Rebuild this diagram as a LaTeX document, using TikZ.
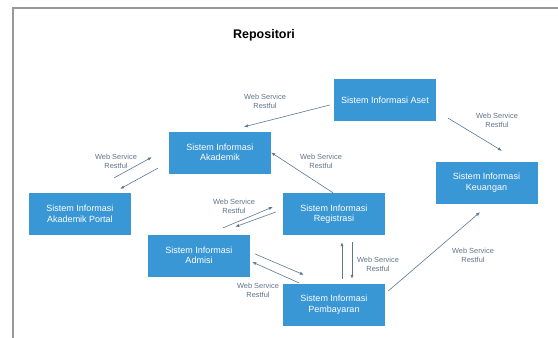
\documentclass[tikz,border=0pt]{standalone}
\usepackage{fontspec}
\setmainfont{Liberation Sans}
\usetikzlibrary{arrows.meta}
\definecolor{boxblue}{HTML}{3A97D5}
\definecolor{linegrey}{HTML}{5C7890}
\definecolor{labelgrey}{HTML}{5E7388}
\begin{document}
\begin{tikzpicture}[x=1pt, y=-1pt,
    sistem/.style={fill=boxblue, text=white, minimum width=102pt, minimum height=42pt, inner sep=0pt, align=center, font=\fontsize{9}{10.5}\selectfont},
    ws/.style={text=labelgrey, align=center, inner sep=0pt, font=\fontsize{7.4}{9}\selectfont},
    link/.style={draw=linegrey, line width=0.6pt, -{Latex[length=4pt,width=3.2pt]}}]
            \useasboundingbox (0,0) rectangle (558,338);

            %frame round the page
            \draw[gray!80, line width=1.2pt] (13,338) -- (13,8) -- (560,8);

            \node[font=\fontsize{12.5}{14}\selectfont\bfseries] (title) at (264,35) {Repositori};

            \node[sistem] (aset) at (385,100) {Sistem Informasi Aset};
            \node[sistem] (akad) at (220,152.5) {Sistem Informasi\\Akademik};
            \node[sistem] (portal) at (80,214) {Sistem Informasi\\Akademik Portal};
            \node[sistem] (regis) at (334,214) {Sistem Informasi\\Registrasi};
            \node[sistem] (admisi) at (199,255.5) {Sistem Informasi\\Admisi};
            \node[sistem] (bayar) at (334,304.5) {Sistem Informasi\\Pembayaran};
            \node[sistem] (keu) at (486.5,182.5) {Sistem Informasi\\Keuangan};

            %labels on the connectors
            \node[ws] (w1) at (265,101) {Web Service\\Restful};
            \node[ws] (w2) at (497,120) {Web Service\\Restful};
            \node[ws] (w3) at (116,161) {Web Service\\Restful};
            \node[ws] (w4) at (321,161) {Web Service\\Restful};
            \node[ws] (w5) at (234,206) {Web Service\\Restful};
            \node[ws] (w6) at (258,290) {Web Service\\Restful};
            \node[ws] (w7) at (378,264) {Web Service\\Restful};
            \node[ws] (w8) at (473,255) {Web Service\\Restful};

            \draw[link] ([shift={(-4,5)}]aset.west) -- ([shift={(24,-4.5)}]akad.north);
            \draw[link] ([shift={(12,-3)}]aset.south east) -- ([shift={(15.5,-10.5)}]keu.north);

            \draw[link] ([shift={(-17,-15)}]portal.north east) -- ([shift={(-17,-16.5)}]akad.south west);
            \draw[link] ([shift={(-11,-5.5)}]akad.south west) -- ([shift={(-11,-4)}]portal.north east);

            \draw[link] ([shift={(-1,0)}]regis.north) -- (akad.east);

            \draw[link] ([shift={(-27,-6.5)}]admisi.north east) -- ([shift={(-10,-7)}]regis.west);
            \draw[link] ([shift={(-7,-2)}]regis.west) -- ([shift={(-15,-7.5)}]admisi.north east);

            \draw[link] ([shift={(5,-1.5)}]admisi.east) -- ([shift={(21,-8.5)}]bayar.north west);
            \draw[link] ([shift={(16,-0.5)}]bayar.north west) -- ([shift={(2,6.5)}]admisi.east);

            \draw[link] ([shift={(8,-4.5)}]bayar.north) -- ([shift={(8,7)}]regis.south);
            \draw[link] ([shift={(18,7)}]regis.south) -- ([shift={(18,-4.5)}]bayar.north);

            \draw[link] ([shift={(3,-13.5)}]bayar.east) -- ([shift={(-6.5,8.5)}]keu.south);

        \end{tikzpicture}
\end{document}
